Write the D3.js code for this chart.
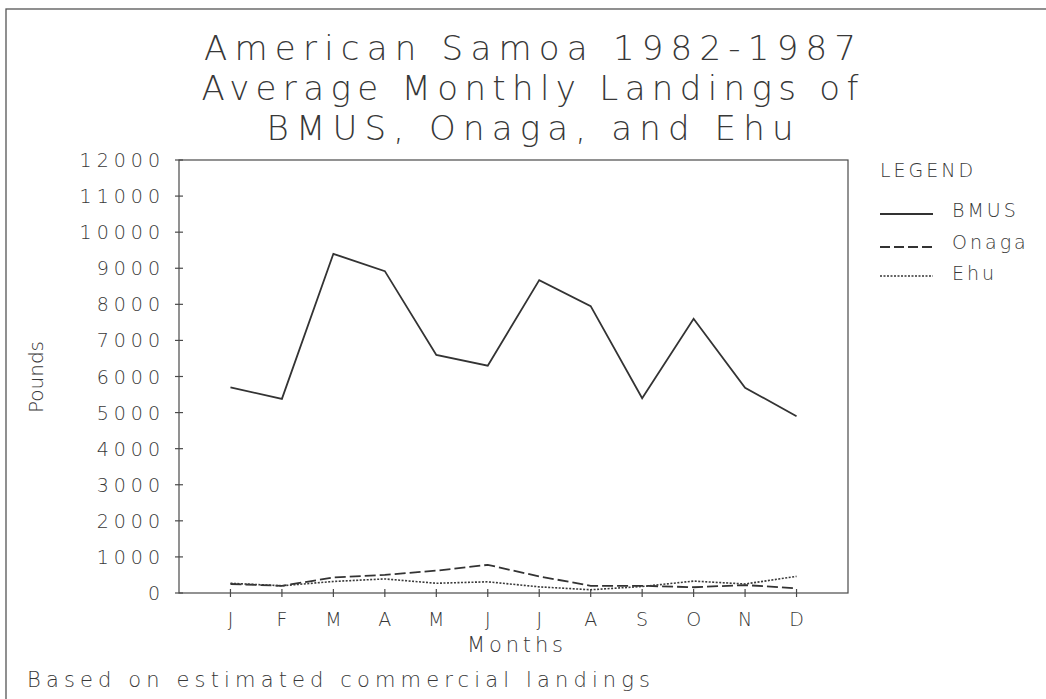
<!DOCTYPE html>
<html>
<head>
<meta charset="utf-8">
<script src="https://cdn.jsdelivr.net/npm/d3@7"></script>
<style>
  body { margin: 0; background: #fff; }
  svg text { font-family: "DejaVu Sans", sans-serif; fill: #383838; font-weight: 300; }
</style>
</head>
<body>
<div id="chart"></div>
<script>
// Data
var months = ["J", "F", "M", "A", "M", "J", "J", "A", "S", "O", "N", "D"];
var bmus  = [5700, 5380, 9400, 8920, 6600, 6300, 8670, 7950, 5400, 7600, 5690, 4900];
var onaga = [250, 200, 430, 500, 620, 780, 460, 200, 200, 160, 220, 130];
var ehu   = [270, 200, 320, 390, 270, 310, 170, 90, 180, 330, 250, 460];
var yTicks = d3.range(0, 12001, 1000);
var titleLines = ["American Samoa 1982-1987", "Average Monthly Landings of", "BMUS, Onaga, and Ehu"];

// Sizing
var width = 1046;
var height = 699;
var plotLeft = 179, plotRight = 848, plotTop = 160, plotBottom = 593;

var svg = d3.select("#chart").append("svg")
    .attr("width", width)
    .attr("height", height);

// page frame
svg.append("rect")
    .attr("x", 6).attr("y", 9)
    .attr("width", width + 10).attr("height", height + 10)
    .attr("fill", "none").attr("stroke", "#555").attr("stroke-width", 1.3);

var x = d3.scalePoint().domain(d3.range(12)).range([plotLeft, plotRight]).padding(1);
var y = d3.scaleLinear().domain([0, 12000]).range([plotBottom, plotTop]);

// plot box
svg.append("rect")
    .attr("x", plotLeft).attr("y", plotTop)
    .attr("width", plotRight - plotLeft).attr("height", plotBottom - plotTop)
    .attr("fill", "none").attr("stroke", "#4a4a4a").attr("stroke-width", 1.2);

// y ticks and labels
svg.selectAll(".ytick").data(yTicks).enter().append("line")
    .attr("x1", plotLeft - 4).attr("x2", plotLeft + 4)
    .attr("y1", d => y(d)).attr("y2", d => y(d))
    .attr("stroke", "#4a4a4a").attr("stroke-width", 1.2);

svg.selectAll(".ylab").data(yTicks).enter().append("text")
    .attr("x", plotLeft - 14)
    .attr("y", d => y(d) + 7)
    .attr("text-anchor", "end")
    .attr("font-size", 19)
    .attr("letter-spacing", 5)
    .text(d => d);

// x ticks and labels
svg.selectAll(".xtick").data(d3.range(12)).enter().append("line")
    .attr("x1", d => x(d)).attr("x2", d => x(d))
    .attr("y1", plotBottom - 4).attr("y2", plotBottom + 4)
    .attr("stroke", "#4a4a4a").attr("stroke-width", 1.2);

svg.selectAll(".xlab").data(d3.range(12)).enter().append("text")
    .attr("x", d => x(d))
    .attr("y", 626)
    .attr("text-anchor", "middle")
    .attr("font-size", 19)
    .text(d => months[d]);

// lines
var line = d3.line().x((d, i) => x(i)).y(d => y(d));

svg.append("path").datum(bmus)
    .attr("d", line).attr("fill", "none")
    .attr("stroke", "#333").attr("stroke-width", 1.8);

svg.append("path").datum(onaga)
    .attr("d", line).attr("fill", "none")
    .attr("stroke", "#333").attr("stroke-width", 1.8)
    .attr("stroke-dasharray", "11,4");

svg.append("path").datum(ehu)
    .attr("d", line).attr("fill", "none")
    .attr("stroke", "#3a3a3a").attr("stroke-width", 1.6)
    .attr("stroke-dasharray", "2,1.5");

// titles
var titleWidths = [652, 657, 527];
svg.selectAll(".title").data(titleLines).enter().append("text")
    .attr("x", 530)
    .attr("y", (d, i) => 60 + i * 40)
    .attr("text-anchor", "middle")
    .attr("font-size", 34)
    .attr("textLength", (d, i) => titleWidths[i])
    .attr("lengthAdjust", "spacing")
    .text(d => d);

// axis titles
svg.append("text")
    .attr("x", 515).attr("y", 652)
    .attr("text-anchor", "middle")
    .attr("font-size", 21)
    .attr("textLength", 96)
    .attr("lengthAdjust", "spacing")
    .text("Months");

svg.append("text")
    .attr("transform", "translate(43,377) rotate(-90)")
    .attr("text-anchor", "middle")
    .attr("font-family", "Liberation Sans Narrow, Liberation Sans, sans-serif")
    .attr("font-size", 20)
    .text("Pounds");

svg.append("text")
    .attr("x", 27).attr("y", 687)
    .attr("font-size", 21)
    .attr("textLength", 623)
    .attr("lengthAdjust", "spacing")
    .text("Based on estimated commercial landings");

// legend
svg.append("text")
    .attr("x", 880).attr("y", 177)
    .attr("font-size", 19)
    .attr("letter-spacing", 3)
    .text("LEGEND");

var legendItems = [
    { name: "BMUS", dash: null, w: 1.8, ty: 217, ly: 214 },
    { name: "Onaga", dash: "10,4", w: 1.8, ty: 249, ly: 247 },
    { name: "Ehu", dash: "2,1.5", w: 1.6, ty: 280, ly: 276 }
];
var lg = svg.selectAll(".leg").data(legendItems).enter().append("g");
lg.append("line")
    .attr("x1", 880).attr("x2", 933)
    .attr("y1", d => d.ly).attr("y2", d => d.ly)
    .attr("stroke", "#333")
    .attr("stroke-width", d => d.w)
    .attr("stroke-dasharray", d => d.dash);
lg.append("text")
    .attr("x", 952).attr("y", d => d.ty)
    .attr("font-size", 19)
    .attr("letter-spacing", 3)
    .text(d => d.name);
</script>
</body>
</html>
